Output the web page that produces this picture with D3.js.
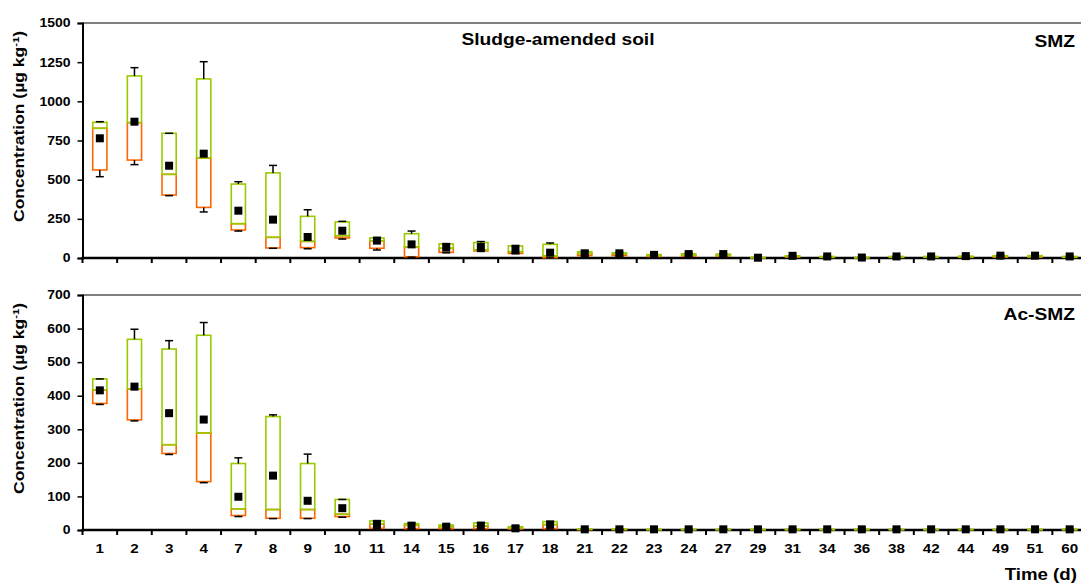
<!DOCTYPE html>
<html>
<head>
<meta charset="utf-8">
<script src="https://cdn.jsdelivr.net/npm/d3@7"></script>
<style>
  body { margin: 0; background: #fff; }
  text { font-family: "Liberation Sans", Arial, sans-serif; font-weight: bold; fill: #000; }
</style>
</head>
<body>
<svg id="chart" width="1081" height="583"></svg>
<script>
// Sampling days (categorical axis)
const days = ["1","2","3","4","7","8","9","10","11","14","15","16","17","18","21","22","23","24","27","29","31","34","36","38","42","44","49","51","60"];

// SMZ in sludge-amended soil (µg kg-1)
const smzMax  = [870,1215,796,1253,487,591,308,234,130,172,92,105,80,96,45,35,25,30,28,4,15,11,3,11,11,13,16,16,11];
const smzQ3   = [866,1162,796,1143,472,543,266,230,128,155,90,99,77,87,40,33,22,27,25,4,14,10,3,10,10,12,15,15,10];
const smzMed  = [828,864,534,638,219,132,106,142,110,70,62,51,40,13,28,25,15,18,16,2,10,6,2,6,6,8,10,10,6];
const smzQ1   = [562,625,402,323,179,64,66,128,62,8,36,45,29,2,15,15,10,12,12,1,6,4,1,4,4,5,6,6,4];
const smzMin  = [519,596,398,294,172,62,59,121,51,5,33,42,27,1,13,13,8,10,10,1,5,3,1,3,3,4,5,5,3];
const smzMean = [764,870,589,666,302,245,134,174,111,87,66,70,51,34,30,30,20,25,25,2,14,10,3,10,10,12,15,15,10];

// Ac-SMZ (µg kg-1)
const acMax  = [450,598,564,618,215,343,226,91,28,20,16,22,11,26,3,3,2,2,2,2,2,2,2,2,2,2,2,2,2];
const acQ3   = [450,568,539,580,198,338,198,91,27,19,15,21,10,25,3,3,2,2,2,2,2,2,2,2,2,2,2,2,2];
const acMed  = [417,420,254,289,63,61,61,47,18,14,10,12,6,16,2,2,1,1,1,1,1,1,1,1,1,1,1,1,1];
const acQ1   = [377,328,228,144,43,35,35,40,5,4,4,4,3,4,1,1,1,1,1,1,1,1,1,1,1,1,1,1,1];
const acMin  = [374,325,225,141,40,34,34,38,4,3,3,3,2,3,1,1,1,1,1,1,1,1,1,1,1,1,1,1,1];
const acMean = [416,427,348,329,99,162,87,65,18,13,10,13,5,16,2,2,2,2,2,2,2,2,2,2,2,2,2,2,2];

const yTicksTop = [0,250,500,750,1000,1250,1500];
const yTicksBottom = [0,100,200,300,400,500,600,700];

const colorUpper = "#99cc00";
const colorLower = "#ff6600";

const svg = d3.select("#chart");

const x = d3.scaleBand().domain(days).range([82.5, 1087]).padding(0);
const boxW = x.bandwidth() * 0.41;
const capW = 8;
const meanSize = 8;

const panels = [
  { label: "SMZ", title: "Sludge-amended soil", yTicks: yTicksTop, top: 23, bottom: 258,
    max: smzMax, q3: smzQ3, med: smzMed, q1: smzQ1, min: smzMin, mean: smzMean,
    topLine: "#808080", topLineW: 2, labels: false, nameY: 47, titleY: 45 },
  { label: "Ac-SMZ", title: null, yTicks: yTicksBottom, top: 295, bottom: 530,
    max: acMax, q3: acQ3, med: acMed, q1: acQ1, min: acMin, mean: acMean,
    topLine: "#000", topLineW: 1, labels: true, nameY: 320 }
];

// draws text stretched horizontally around its anchor point
function wideText(g, txt, px, py, size, sx, anchor) {
  return g.append("text")
    .attr("transform", `translate(${px},${py}) scale(${sx},1)`)
    .attr("font-size", size)
    .attr("text-anchor", anchor)
    .text(txt);
}

panels.forEach(p => {
  const y = d3.scaleLinear().domain([0, d3.max(p.yTicks)]).range([p.bottom, p.top]);
  const g = svg.append("g");
  const x0 = x.range()[0];

  // top frame line
  g.append("line").attr("x1", x0).attr("x2", 1081)
    .attr("y1", y(d3.max(p.yTicks))).attr("y2", y(d3.max(p.yTicks)))
    .attr("stroke", p.topLine).attr("stroke-width", p.topLineW);

  // y axis
  const yAxis = d3.axisLeft(y).tickValues(p.yTicks).tickSize(5).tickPadding(7).tickFormat(d3.format("d"));
  const ya = g.append("g").attr("transform", `translate(${x0},0)`).call(yAxis);
  ya.select(".domain").attr("stroke", "#000").attr("stroke-width", 2);
  ya.selectAll(".tick line").attr("stroke", "#000").attr("stroke-width", 1.5);
  ya.selectAll(".tick text")
    .attr("font-size", 12).attr("font-family", null)
    .attr("x", -12 / 1.16)
    .attr("transform", "scale(1.16,1)");

  // x axis: labels at band centres, ticks at band edges
  const xa = g.append("g").attr("transform", `translate(0,${p.bottom})`);
  xa.append("line").attr("x1", x0 - 1).attr("x2", 1081).attr("y1", 0).attr("y2", 0)
    .attr("stroke", "#000").attr("stroke-width", 2.5);
  const edges = days.map(d => x(d)).concat([x.range()[1]]);
  xa.selectAll("line.edge").data(edges).join("line").attr("class", "edge")
    .attr("x1", d => d).attr("x2", d => d).attr("y1", 0).attr("y2", 5)
    .attr("stroke", "#000").attr("stroke-width", 2);
  if (p.labels) {
    days.forEach(d => {
      wideText(xa, d, x(d) + x.bandwidth() / 2, 22.7, 13, 1.17, "middle");
    });
  }

  // boxes
  const cx = i => x(days[i]) + x.bandwidth() / 2;
  const idx = d3.range(days.length);
  g.selectAll("rect.lower").data(idx).join("rect").attr("class", "lower")
    .attr("x", i => cx(i) - boxW / 2).attr("width", boxW)
    .attr("y", i => y(p.med[i])).attr("height", i => Math.max(0.01, y(p.q1[i]) - y(p.med[i])))
    .attr("fill", "none").attr("stroke", colorLower).attr("stroke-width", 1.6);
  g.selectAll("rect.upper").data(idx).join("rect").attr("class", "upper")
    .attr("x", i => cx(i) - boxW / 2).attr("width", boxW)
    .attr("y", i => y(p.q3[i])).attr("height", i => Math.max(0.01, y(p.med[i]) - y(p.q3[i])))
    .attr("fill", "none").attr("stroke", colorUpper).attr("stroke-width", 1.6);

  // whiskers with caps
  const wg = g.append("g").attr("stroke", "#000").attr("stroke-width", 1.5);
  idx.forEach(i => {
    const c = cx(i);
    wg.append("line").attr("x1", c).attr("x2", c).attr("y1", y(p.q3[i])).attr("y2", y(p.max[i]));
    wg.append("line").attr("x1", c - capW / 2).attr("x2", c + capW / 2).attr("y1", y(p.max[i])).attr("y2", y(p.max[i]));
    wg.append("line").attr("x1", c).attr("x2", c).attr("y1", y(p.q1[i])).attr("y2", y(p.min[i]));
    wg.append("line").attr("x1", c - capW / 2).attr("x2", c + capW / 2).attr("y1", y(p.min[i])).attr("y2", y(p.min[i]));
  });

  // mean markers
  g.selectAll("rect.mean").data(idx).join("rect").attr("class", "mean")
    .attr("x", i => cx(i) - meanSize / 2).attr("y", i => y(p.mean[i]) - meanSize / 2)
    .attr("width", meanSize).attr("height", meanSize).attr("fill", "#000");

  // y axis title
  const midY = (p.top + p.bottom) / 2 - 14;
  const yt = g.append("text")
    .attr("transform", `translate(24,${midY}) rotate(-90) scale(1.25,1)`)
    .attr("font-size", 14).attr("text-anchor", "middle");
  yt.append("tspan").text("Concentration (µg kg");
  yt.append("tspan").attr("font-size", 9).attr("dy", -5).text("-1");
  yt.append("tspan").attr("dy", 5).text(")");

  // panel labels
  wideText(g, p.label, 1075, p.nameY, 17, 1.13, "end");
  if (p.title) wideText(g, p.title, 558, p.titleY, 17, 1.13, "middle");
});

// x axis title
wideText(svg, "Time (d)", 1077, 580, 17, 1.1, "end");
</script>
</body>
</html>
